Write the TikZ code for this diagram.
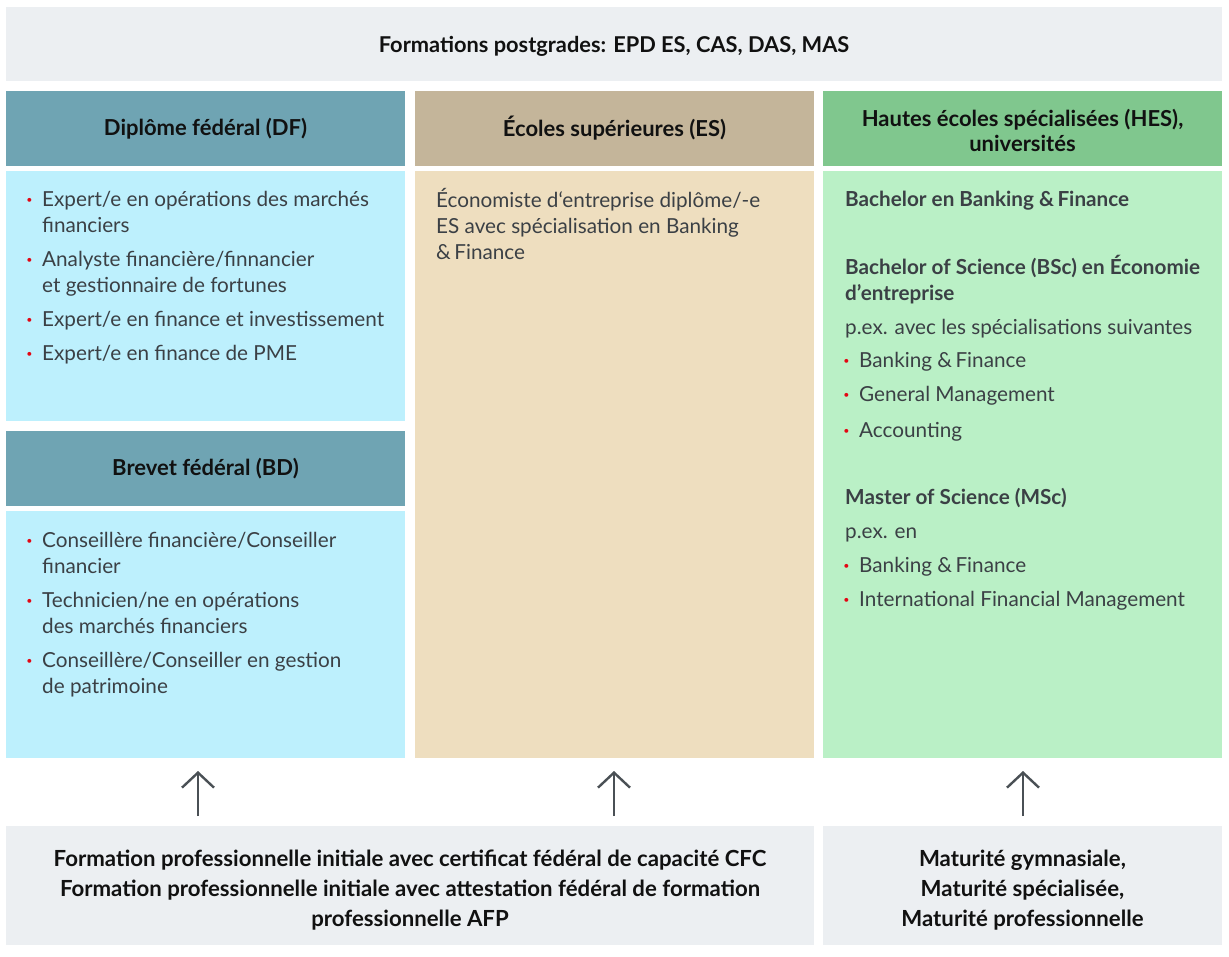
\documentclass[tikz,border=0pt]{standalone}
\usepackage{fontspec}
\setmainfont{Lato}
\usetikzlibrary{arrows.meta}
\definecolor{barbg}{HTML}{ECEFF2}
\definecolor{dfhead}{HTML}{6FA4B3}
\definecolor{dfbody}{HTML}{BDF0FD}
\definecolor{eshead}{HTML}{C4B59A}
\definecolor{esbody}{HTML}{EEDEBF}
\definecolor{heshead}{HTML}{80C78E}
\definecolor{hesbody}{HTML}{BAF0C6}
\definecolor{bodytext}{HTML}{3B4045}
\definecolor{hdrtext}{HTML}{111111}
\definecolor{arrowc}{HTML}{4A5055}
\definecolor{bulred}{HTML}{E30613}
\newcommand\bul{\llap{\textcolor{bulred}{\bfseries ·}\hspace{10pt}}}
\tikzset{
  panel/.style={draw=none, inner sep=0pt, outer sep=0pt, anchor=north west},
  hdr/.style={panel, font=\bfseries\fontsize{22}{25}\selectfont, text=hdrtext, align=center},
  foottext/.style={inner sep=0pt, font=\bfseries\fontsize{22.2}{30}\selectfont, text=hdrtext, align=center},
  ln/.style={anchor=base west, inner sep=0pt, font=\fontsize{20.7}{26}\selectfont, text=bodytext},
  lnb/.style={ln, font=\bfseries\fontsize{20.7}{26}\selectfont},
  arr/.style={draw=arrowc, line width=2.4pt, -{Straight Barb[length=15pt, width=32pt]}}
}
\begin{document}
\begin{tikzpicture}[x=1pt,y=-1pt]
\useasboundingbox (0,0) rectangle (1229,957);
% top bar
\node[panel, fill=barbg, minimum width=1216pt, minimum height=74pt] (top) at (6,7) {};
\node[inner sep=0pt, font=\bfseries\fontsize{21.8}{25}\selectfont, text=hdrtext, yshift=-2pt] (toptext) at (top.center) {Formations postgrades: EPD ES, CAS, DAS, MAS};
% headers
\node[hdr, fill=dfhead, minimum width=399pt, minimum height=75pt] (dfh) at (6,91) {Diplôme fédéral (DF)};
\node[hdr, fill=eshead, minimum width=399pt, minimum height=75pt] (esh) at (415,91) {Écoles supérieures (ES)};
\node[panel, fill=heshead, minimum width=399pt, minimum height=75pt] (hesh) at (823,91) {};
\node[inner sep=0pt, font=\bfseries\fontsize{22}{25}\selectfont, text=hdrtext, align=center, yshift=-1.5pt] (heshtext) at (hesh.center) {Hautes écoles spécialisées (HES),\\universités};
% bodies
\node[panel, fill=dfbody, minimum width=399pt, minimum height=250pt] (dfb) at (6,171) {};
\node[hdr, fill=dfhead, minimum width=399pt, minimum height=75pt] (bdh) at (6,431) {Brevet fédéral (BD)};
\node[panel, fill=dfbody, minimum width=399pt, minimum height=247pt] (bdb) at (6,511) {};
\node[panel, fill=esbody, minimum width=399pt, minimum height=587pt] (esb) at (415,171) {};
\node[panel, fill=hesbody, minimum width=399pt, minimum height=587pt] (hesb) at (823,171) {};
% DF list
\node[ln] (d1) at (42,207) {\bul Expert/e en opérations des marchés};
\node[ln] (d2) at (42,233) {financiers};
\node[ln] (d3) at (42,267) {\bul Analyste financière/finnancier};
\node[ln] (d4) at (42,293) {et gestionnaire de fortunes};
\node[ln] (d5) at (42,327) {\bul Expert/e en finance et investissement};
\node[ln] (d6) at (42,361) {\bul Expert/e en finance de PME};
% BD list
\node[ln] (b1) at (42,547) {\bul Conseillère financière/Conseiller};
\node[ln] (b2) at (42,573) {financier};
\node[ln] (b3) at (42,607) {\bul Technicien/ne en opérations};
\node[ln] (b4) at (42,633) {des marchés financiers};
\node[ln] (b5) at (42,667) {\bul Conseillère/Conseiller en gestion};
\node[ln] (b6) at (42,693) {de patrimoine};
% ES text
\node[ln] (e1) at (436,208) {Économiste d‘entreprise diplôme/-e};
\node[ln] (e2) at (436,234) {ES avec spécialisation en Banking};
\node[ln] (e3) at (436,260) {\&\,Finance};
% HES text
\node[lnb] (h1) at (845,207) {Bachelor en Banking \&\,Finance};
\node[lnb] (h2) at (845,275) {Bachelor of Science (BSc) en Économie};
\node[lnb] (h3) at (845,301) {d’entreprise};
\node[ln] (h4) at (845,335) {p.ex. avec les spécialisations suivantes};
\node[ln] (h5) at (859,368) {\bul Banking \&\,Finance};
\node[ln] (h6) at (859,402) {\bul General Management};
\node[ln] (h7) at (859,437) {\bul Accounting};
\node[lnb] (h8) at (845,504) {Master of Science (MSc)};
\node[ln] (h9) at (845,538) {p.ex. en};
\node[ln] (h10) at (859,572) {\bul Banking \&\,Finance};
\node[ln] (h11) at (859,606) {\bul International Financial Management};
% bottom boxes
\node[panel, fill=barbg, minimum width=808pt, minimum height=119pt] (fl) at (6,826) {};
\node[foottext, yshift=-5pt] (fltext) at (fl.center) {Formation professionnelle initiale avec certificat fédéral de capacité CFC\\Formation professionnelle initiale avec attestation fédéral de formation\\professionnelle AFP};
\node[panel, fill=barbg, minimum width=399pt, minimum height=119pt] (fr) at (823,826) {};
\node[foottext, yshift=-5pt] (frtext) at (fr.center) {Maturité gymnasiale,\\Maturité spécialisée,\\Maturité professionnelle};
% arrows
\coordinate (a1s) at (198,816); \coordinate (a1e) at (198,771);
\coordinate (a2s) at (614,816); \coordinate (a2e) at (614,771);
\coordinate (a3s) at (1023,816); \coordinate (a3e) at (1023,771);
\draw[arr] (a1s) -- (a1e);
\draw[arr] (a2s) -- (a2e);
\draw[arr] (a3s) -- (a3e);
\end{tikzpicture}
\end{document}
